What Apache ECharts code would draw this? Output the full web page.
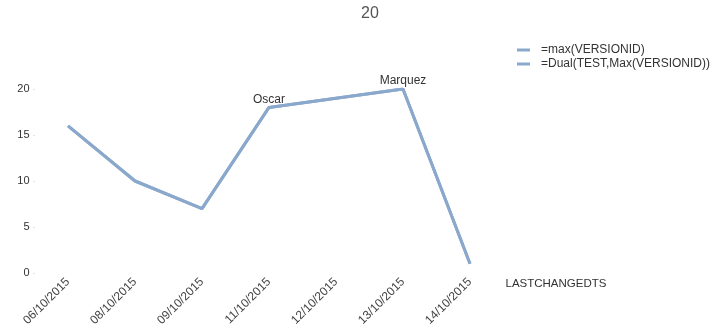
<!DOCTYPE html>
<html>
<head>
<meta charset="utf-8">
<script src="https://cdn.jsdelivr.net/npm/echarts@6/dist/echarts.min.js"></script>
<style>html,body{margin:0;padding:0;background:#fff;}#c{width:720px;height:331px;}</style>
</head>
<body>
<div id="c"></div>
<script>
var categories = ['06/10/2015','08/10/2015','09/10/2015','11/10/2015','12/10/2015','13/10/2015','14/10/2015'];
var maxVersion = [16, 10, 7, 18, 19, 20, 1];
var dualVersion = [16, 10, 7, 18, 19, 20, 1];
var dualLabels = ['', '', '', 'Oscar', '', 'Marquez', ''];
var yTicks = [0, 5, 10, 15, 20];
var seriesNames = ['=max(VERSIONID)', '=Dual(TEST,Max(VERSIONID))'];

var FONT = '"Liberation Sans", Arial, sans-serif';
var COLOR = '#8aa8cc';
var chart = echarts.init(document.getElementById('c'), null, {renderer: 'canvas'});
chart.setOption({
  animation: false,
  backgroundColor: '#fff',
  textStyle: {fontFamily: FONT},
  title: {
    text: '20', left: 356, top: 1,
    textStyle: {fontFamily: FONT, fontSize: 16, fontWeight: 'normal', color: '#555'}
  },
  legend: {
    orient: 'vertical', left: 512, top: 38, itemGap: 0,
    itemWidth: 13, itemHeight: 3, icon: 'rect',
    textStyle: {fontFamily: FONT, fontSize: 12, color: '#333', lineHeight: 14, padding: [0, 0, 0, 6]},
    data: [
      {name: seriesNames[0], itemStyle: {color: COLOR, opacity: 1}},
      {name: seriesNames[1], itemStyle: {color: COLOR, opacity: 1}}
    ]
  },
  grid: {left: 34.5, right: 216.5, top: 89, bottom: 58, containLabel: false},
  xAxis: {
    type: 'category', data: categories, boundaryGap: true,
    name: 'LASTCHANGEDTS', nameLocation: 'end', nameGap: 2,
    nameTextStyle: {fontFamily: FONT, fontSize: 11.5, color: '#333', align: 'left', verticalAlign: 'top', padding: [5, 0, 0, 0]},
    axisLine: {show: false}, axisTick: {show: false},
    axisLabel: {rotate: 45, margin: 7, fontFamily: FONT, fontSize: 12, color: '#444', interval: 0}
  },
  yAxis: {
    type: 'value', min: yTicks[0], max: yTicks[yTicks.length - 1], interval: 5,
    axisLine: {show: false},
    axisTick: {show: true, length: 1, lineStyle: {color: '#ccc'}},
    splitLine: {show: false},
    axisLabel: {margin: 5, fontFamily: FONT, fontSize: 11, color: '#333'}
  },
  series: [
    {
      name: seriesNames[0], type: 'line', data: maxVersion,
      symbol: 'none', lineStyle: {width: 3, color: COLOR}, itemStyle: {color: COLOR}
    },
    {
      name: seriesNames[1], type: 'line', data: dualVersion,
      symbol: 'circle', symbolSize: 0.1, showSymbol: true,
      lineStyle: {width: 3, color: COLOR}, itemStyle: {color: COLOR},
      label: {
        show: true, position: 'top', distance: 2,
        fontFamily: FONT, fontSize: 12, color: '#333',
        formatter: function (p) { return dualLabels[p.dataIndex]; }
      }
    }
  ]
});
</script>
</body>
</html>
